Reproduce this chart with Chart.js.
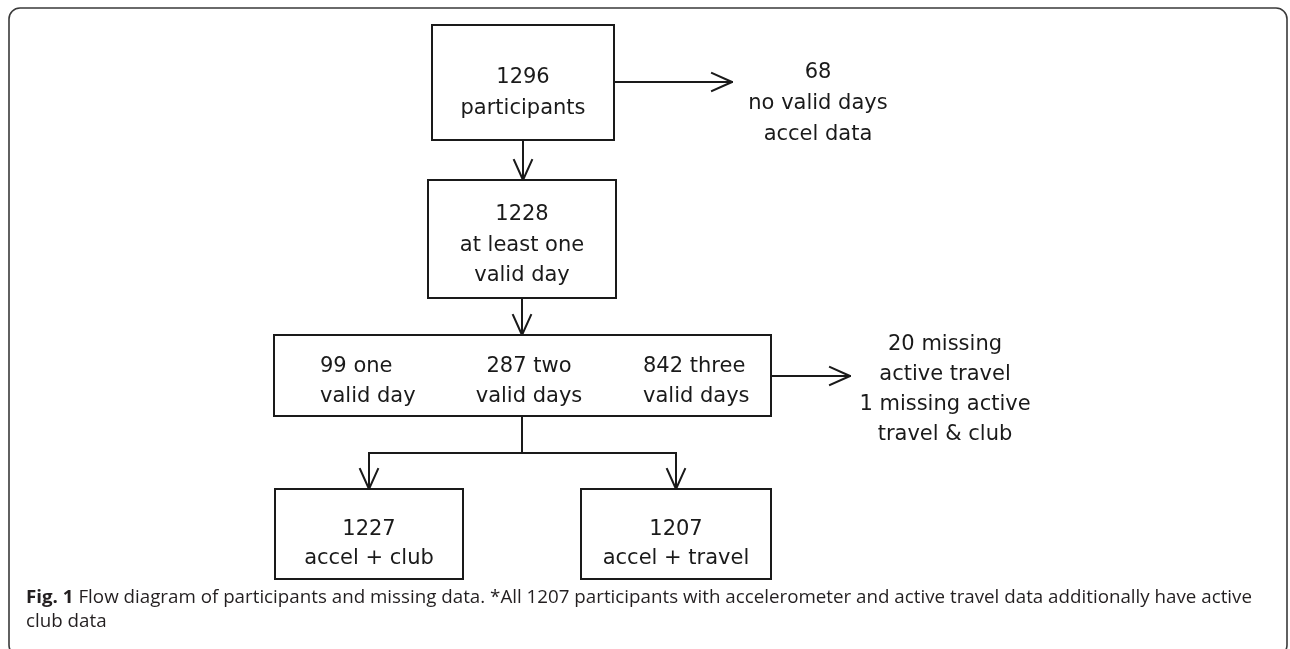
<!DOCTYPE html>
<html>
<head>
<meta charset="utf-8">
<script src="https://cdn.jsdelivr.net/npm/chart.js@4.4.1/dist/chart.umd.min.js"></script>
<style>
  html, body { margin: 0; padding: 0; background: #fff; }
  #wrap { position: relative; width: 1290px; height: 649px; }
</style>
</head>
<body>
<div id="wrap"><canvas id="flow"></canvas></div>
<script>
//! flow data
const mainCounts = ['1296', '1228']
const mainLabels = [['participants'], ['at least one', 'valid day']]
const dayCounts = ['99', '287', '842']
const dayLabels = [['one', 'valid day'], ['two', 'valid days'], ['three', 'valid days']]
const outcomeCounts = ['1227', '1207']
const outcomeLabels = ['accel + club', 'accel + travel']
const excludedTop = ['68', 'no valid days', 'accel data']
const excludedMid = ['20 missing', 'active travel', '1 missing active', 'travel & club']
const captionBold = 'Fig. 1'
const captionLines = [
  ' Flow diagram of participants and missing data. *All 1207 participants with accelerometer and active travel data additionally have active',
  'club data'
]

//! layout, in units of the hidden x / y scales
const boxes = [
  { x0: 432, x1: 614, y0: 25, y1: 140 },
  { x0: 428, x1: 616, y0: 180, y1: 298 },
  { x0: 274, x1: 771, y0: 335, y1: 416 },
  { x0: 275, x1: 463, y0: 489, y1: 579 },
  { x0: 581, x1: 771, y0: 489, y1: 579 }
]
const arrows = [
  [[523, 140], [523, 180]],
  [[614, 82], [732, 82]],
  [[522, 298], [522, 335]],
  [[771, 376], [850, 376]],
  [[369, 453], [369, 489]],
  [[676, 453], [676, 489]]
]
const joints = [
  [[522, 416], [522, 453]],
  [[369, 453], [676, 453]]
]
const textBlocks = [
  { x: 523, y: 83, gap: 30.5, lines: [mainCounts[0], ...mainLabels[0]] },
  { x: 522, y: 220, gap: 30.5, lines: [mainCounts[1], ...mainLabels[1]] },
  { x: 320, y: 372, gap: 30, align: 'left', lines: [dayCounts[0] + ' ' + dayLabels[0][0], dayLabels[0][1]] },
  { x: 529, y: 372, gap: 30, lines: [dayCounts[1] + ' ' + dayLabels[1][0], dayLabels[1][1]] },
  { x: 643, y: 372, gap: 30, align: 'left', lines: [dayCounts[2] + ' ' + dayLabels[2][0], dayLabels[2][1]] },
  { x: 369, y: 535, gap: 29, lines: [outcomeCounts[0], outcomeLabels[0]] },
  { x: 676, y: 535, gap: 29, lines: [outcomeCounts[1], outcomeLabels[1]] },
  { x: 818, y: 78, gap: 31, lines: excludedTop },
  { x: 945, y: 350, gap: 30, lines: excludedMid }
]

const ink = '#1a1a1a'
const toPts = pts => pts.map(([x, y]) => ({ x, y }))
const line = (pts, join) => ({
  data: toPts(pts),
  showLine: true,
  borderColor: ink,
  borderWidth: 2,
  borderJoinStyle: join || 'miter',
  borderCapStyle: 'square',
  pointRadius: 0,
  tension: 0,
  fill: false
})

const datasets = []
boxes.forEach(b => {
  datasets.push(line([[b.x0, b.y0], [b.x1, b.y0], [b.x1, b.y1], [b.x0, b.y1], [b.x0, b.y0]]))
})
joints.forEach(j => datasets.push(line(j)))
arrows.forEach(([a, b]) => {
  datasets.push(line([a, b]))
  // open V head
  const dx = b[0] - a[0], dy = b[1] - a[1]
  const len = Math.hypot(dx, dy), ux = dx / len, uy = dy / len
  const back = 20, half = 9
  const head = [
    [b[0] - ux * back - uy * half, b[1] - uy * back + ux * half],
    b,
    [b[0] - ux * back + uy * half, b[1] - uy * back - ux * half]
  ]
  datasets.push(line(head, 'round'))
})

const frame = {
  id: 'frame',
  beforeDraw(chart) {
    const { ctx, scales: { x, y } } = chart
    ctx.save()
    ctx.strokeStyle = '#3a3a3a'
    ctx.lineWidth = 1.6
    ctx.beginPath()
    const l = x.getPixelForValue(9), r = x.getPixelForValue(1287)
    const t = y.getPixelForValue(8), btm = y.getPixelForValue(656)
    ctx.roundRect(l, t, r - l, btm - t, 11)
    ctx.stroke()
    ctx.restore()
  }
}

const flowText = {
  id: 'flowText',
  afterDatasetsDraw(chart) {
    const { ctx, scales: { x, y } } = chart
    ctx.save()
    ctx.fillStyle = ink
    ctx.textBaseline = 'alphabetic'
    ctx.font = '21px "DejaVu Sans"'
    textBlocks.forEach(b => {
      ctx.textAlign = b.align || 'center'
      b.lines.forEach((t, i) => {
        ctx.fillText(t, x.getPixelForValue(b.x), y.getPixelForValue(b.y + i * b.gap))
      })
    })

    // caption: a bit narrower than Open Sans, squeezed to span the frame
    ctx.textAlign = 'left'
    ctx.fillStyle = '#231f20'
    const size = 18.5
    ctx.font = `bold ${size}px "Open Sans"`
    const wb = ctx.measureText(captionBold).width
    ctx.font = `${size}px "Open Sans"`
    const wr = ctx.measureText(captionLines[0]).width
    const sx = 1226 / (wb + wr)
    ctx.translate(x.getPixelForValue(26), 0)
    ctx.scale(sx, 1)
    ctx.font = `bold ${size}px "Open Sans"`
    ctx.fillText(captionBold, 0, y.getPixelForValue(603))
    ctx.font = `${size}px "Open Sans"`
    ctx.fillText(captionLines[0], wb, y.getPixelForValue(603))
    ctx.fillText(captionLines[1], 0, y.getPixelForValue(627))
    ctx.restore()
  }
}

new Chart(document.getElementById('flow'), {
  type: 'scatter',
  data: { datasets },
  options: {
    responsive: true,
    maintainAspectRatio: false,
    animation: false,
    events: [],
    layout: { padding: 0 },
    plugins: { legend: { display: false }, tooltip: { enabled: false } },
    scales: {
      x: { type: 'linear', min: 0, max: 1290, display: false },
      y: { type: 'linear', min: 0, max: 649, reverse: true, display: false }
    }
  },
  plugins: [frame, flowText]
})
</script>
</body>
</html>
